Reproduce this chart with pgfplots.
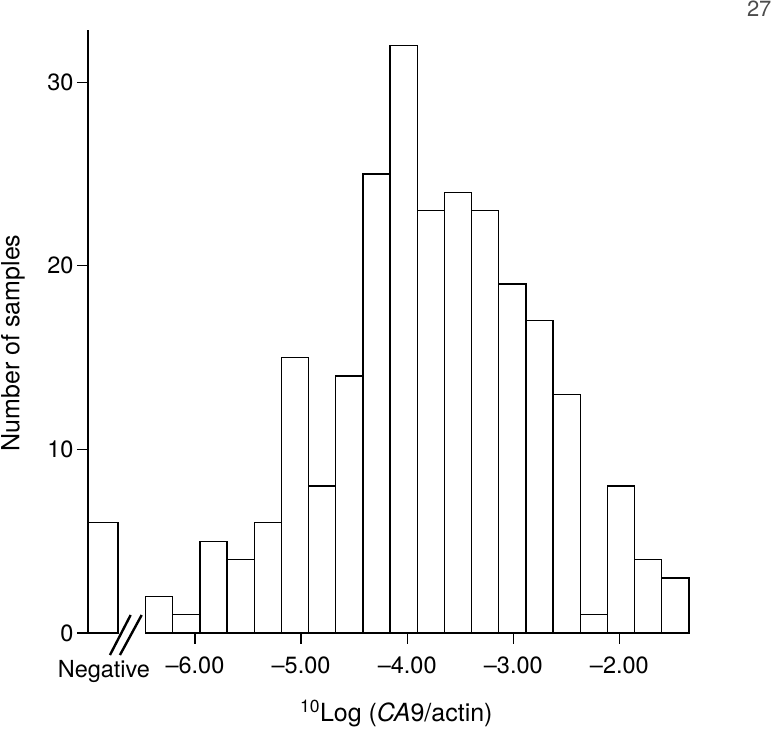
\documentclass[border=0pt]{standalone}
\usepackage{fontspec}
\setmainfont{TeX Gyre Heros}
\usepackage{pgfplots}
\pgfplotsset{compat=1.18}
\begin{document}
\begin{tikzpicture}
\useasboundingbox (0,0) rectangle (777pt,733pt);
\node[anchor=base east, font=\fontsize{22}{26}\selectfont, text=black!70] at (775pt,716pt) {27};
\begin{axis}[
  at={(88pt,100pt)}, anchor=south west,
  scale only axis, width=601pt, height=603pt,
  xmin=-7.008, xmax=-1.344, ymin=0, ymax=32.84,
  axis lines=left,
  axis line style={-, line width=1.2pt},
  x axis line style={draw=none},
  tick align=outside,
  major tick length=11pt,
  every tick/.style={black, line width=1.2pt},
  xtick={-6,-5,-4,-3,-2},
  xticklabels={–6.00,–5.00,–4.00,–3.00,–2.00},
  ytick={0,10,20,30},
  /pgf/number format/assume math mode=true,
  ticklabel style={font=\fontsize{23.5}{27}\selectfont},
  xticklabel style={yshift=-9pt},
  label style={font=\fontsize{25}{29}\selectfont},
  xlabel={\textsuperscript{10}Log (\textit{CA}9/actin)},
  ylabel={Number of samples},
  xlabel style={at={(axis description cs:0.513,-0.147)}, anchor=base},
  ylabel style={at={(axis description cs:-0.1248,0.481)}, anchor=center},
  clip=false,
]
\addplot[ybar interval, fill=white, draw=black, line width=1.3pt] coordinates {
  (-7.008,6) (-6.726,6)
};
\addplot[ybar interval, fill=white, draw=black, line width=1.3pt] table {
x y
-6.465 2
-6.209 1
-5.953 5
-5.697 4
-5.441 6
-5.185 15
-4.929 8
-4.673 14
-4.417 25
-4.161 32
-3.905 23
-3.649 24
-3.393 23
-3.137 19
-2.881 17
-2.625 13
-2.369 1
-2.113 8
-1.857 4
-1.601 3
-1.345 3
};
\draw[line width=2.4pt] (axis cs:-6.801,-1.20) -- (axis cs:-6.606,0.98);
\draw[line width=2.4pt] (axis cs:-6.707,-1.20) -- (axis cs:-6.502,0.98);
\node[anchor=base, font=\fontsize{23.5}{27}\selectfont] at (axis cs:-6.858,-2.43) {Negative};
\end{axis}
\end{tikzpicture}
\end{document}
